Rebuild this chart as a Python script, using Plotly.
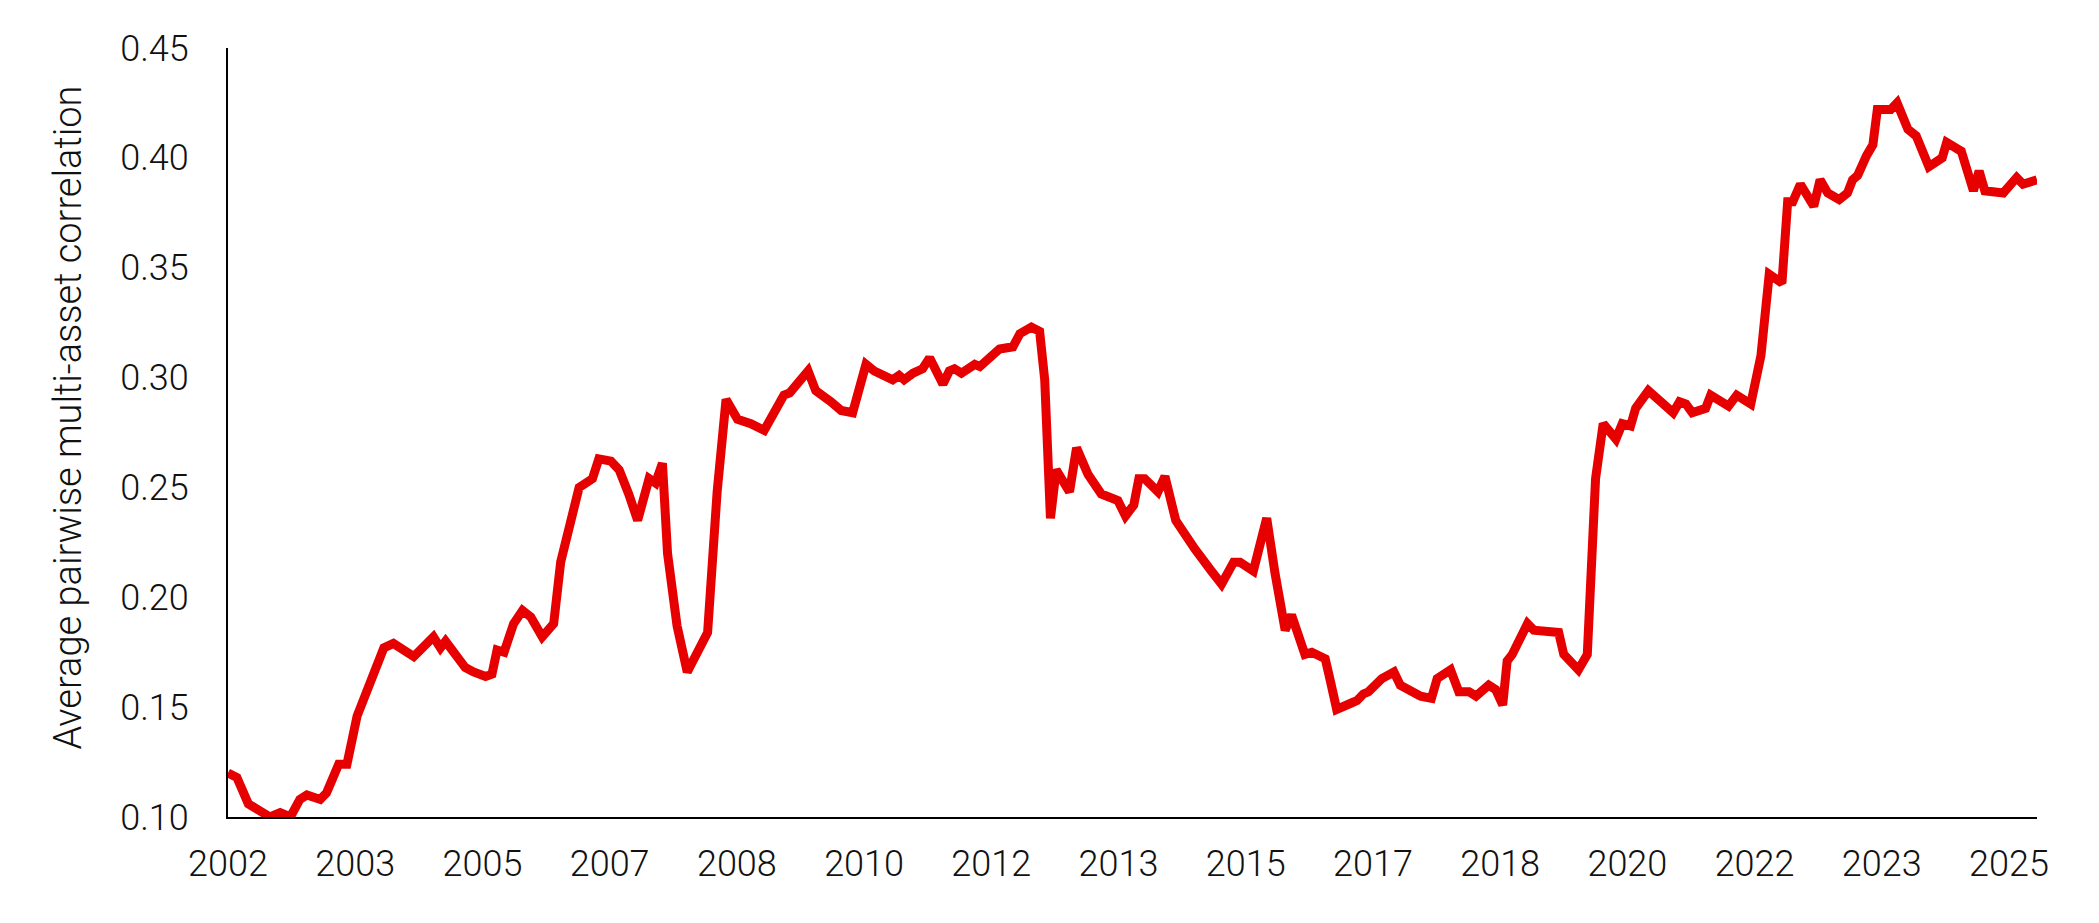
import plotly.graph_objects as go

# Months since January 2002 and the average pairwise correlation
month_index = [
    0.0, 1.4, 3.2, 5.3, 6.6, 8.2, 9.8, 11.3, 12.4, 14.5,
    15.5, 17.4, 18.7, 20.3, 22.6, 24.5, 26.0, 27.9, 29.2, 32.3,
    33.4, 34.2, 37.3, 38.6, 40.5, 41.5, 42.3, 43.4, 44.9, 46.3,
    47.6, 49.4, 51.2, 52.3, 53.9, 55.2, 57.3, 58.3, 60.2, 61.5,
    63.0, 64.4, 66.2, 67.2, 68.3, 69.1, 70.6, 72.2, 75.4, 76.9,
    78.3, 80.1, 82.2, 84.3, 87.4, 88.3, 91.2, 92.4, 94.8, 96.4,
    98.2, 100.3, 101.6, 104.5, 105.5, 106.3, 107.7, 109.2, 110.3, 112.4,
    113.4, 114.2, 115.3, 117.4, 118.2, 120.0, 121.3, 123.4, 124.5, 126.3,
    127.6, 128.4, 129.3, 130.2, 132.3, 133.4, 135.2, 137.3, 139.9, 141.1,
    142.4, 143.2, 144.1, 146.2, 147.3, 149.0, 150.2, 152.0, 154.6, 156.2,
    158.1, 159.1, 161.2, 163.3, 164.6, 166.2, 167.2, 169.3, 170.4, 172.5,
    173.3, 174.3, 176.7, 177.5, 178.5, 179.3, 181.4, 182.2, 183.3, 184.3,
    185.9, 187.5, 189.2, 190.1, 192.2, 193.5, 195.1, 196.2, 198.2, 199.3,
    200.4, 201.1, 201.9, 204.3, 205.3, 207.4, 209.2, 210.0, 212.3, 213.7,
    215.0, 216.2, 218.2, 219.2, 220.5, 221.3, 223.3, 227.2, 228.2, 229.2,
    230.2, 232.3, 233.1, 235.9, 237.2, 239.4, 241.0, 242.3, 244.3, 245.2,
    246.0, 247.2, 249.3, 250.3, 251.5, 253.3, 254.6, 255.4, 256.2, 257.6,
    258.6, 259.3, 261.4, 262.4, 264.1, 265.4, 267.4, 269.5, 270.2, 272.5,
    273.3, 274.4, 275.3, 276.2, 279.1, 281.2, 282.2, 284.4,
]

correlation = [
    0.120, 0.118, 0.106, 0.102, 0.100, 0.102, 0.100, 0.108, 0.110, 0.108,
    0.111, 0.124, 0.124, 0.146, 0.162, 0.177, 0.179, 0.175, 0.173, 0.182,
    0.177, 0.180, 0.168, 0.166, 0.164, 0.165, 0.176, 0.175, 0.188, 0.194,
    0.191, 0.182, 0.188, 0.216, 0.237, 0.250, 0.254, 0.263, 0.262, 0.258,
    0.247, 0.235, 0.254, 0.252, 0.261, 0.220, 0.187, 0.166, 0.184, 0.248,
    0.290, 0.281, 0.279, 0.276, 0.292, 0.293, 0.303, 0.294, 0.289, 0.285,
    0.284, 0.306, 0.303, 0.299, 0.301, 0.299, 0.302, 0.304, 0.309, 0.297,
    0.303, 0.304, 0.302, 0.306, 0.305, 0.310, 0.313, 0.314, 0.320, 0.323,
    0.321, 0.299, 0.236, 0.258, 0.248, 0.268, 0.256, 0.247, 0.244, 0.237,
    0.242, 0.254, 0.254, 0.248, 0.255, 0.235, 0.229, 0.222, 0.212, 0.206,
    0.216, 0.216, 0.212, 0.236, 0.211, 0.185, 0.192, 0.174, 0.175, 0.172,
    0.162, 0.149, 0.152, 0.153, 0.156, 0.157, 0.163, 0.164, 0.166, 0.160,
    0.157, 0.155, 0.154, 0.163, 0.167, 0.157, 0.157, 0.155, 0.160, 0.158,
    0.151, 0.171, 0.174, 0.188, 0.185, 0.185, 0.184, 0.174, 0.167, 0.174,
    0.254, 0.279, 0.272, 0.279, 0.278, 0.286, 0.294, 0.284, 0.289, 0.288,
    0.284, 0.286, 0.292, 0.287, 0.292, 0.288, 0.310, 0.347, 0.343, 0.380,
    0.380, 0.388, 0.378, 0.390, 0.384, 0.381, 0.384, 0.390, 0.392, 0.401,
    0.406, 0.422, 0.422, 0.425, 0.413, 0.410, 0.396, 0.400, 0.407, 0.403,
    0.396, 0.385, 0.394, 0.385, 0.384, 0.391, 0.388, 0.390,
]

# Category-axis labels, one every 20 months starting January 2002
tick_labels = ["2002", "2003", "2005", "2007", "2008", "2010", "2012", "2013",
               "2015", "2017", "2018", "2020", "2022", "2023", "2025"]
tick_step_months = 20

y_ticks = [0.10, 0.15, 0.20, 0.25, 0.30, 0.35, 0.40, 0.45]
y_title = "Average pairwise multi-asset correlation"

FONT = "Roboto"
TEXT_COLOR = "#111111"
TICK_SIZE = 36
TITLE_SIZE = 38

fig = go.Figure()
fig.add_trace(go.Scatter(
    x=month_index,
    y=correlation,
    mode="lines",
    line=dict(color="#E60000", width=9, shape="linear"),
    showlegend=False,
    hoverinfo="skip",
))

fig.update_layout(
    width=2083,
    height=907,
    margin=dict(l=220, r=54, t=40, b=98),
    paper_bgcolor="white",
    plot_bgcolor="white",
    font=dict(family=FONT, size=TICK_SIZE, color=TEXT_COLOR, weight=300),
)

# Vertical axis title, placed as rotated text left of the tick labels
fig.add_annotation(
    text=y_title,
    xref="paper", yref="paper",
    x=0, y=0.5,
    xanchor="center", yanchor="middle",
    xshift=-161, yshift=15,
    textangle=-90,
    showarrow=False,
    font=dict(family=FONT, size=TITLE_SIZE, color=TEXT_COLOR, weight=300),
)

fig.update_xaxes(
    range=[0, month_index[-1]],
    tickmode="array",
    tickvals=[i * tick_step_months for i in range(len(tick_labels))],
    ticktext=tick_labels,
    showgrid=False,
    zeroline=False,
    showline=True,
    linecolor="black",
    linewidth=2,
    ticks="",
    ticklabelstandoff=14,
    tickfont=dict(family=FONT, size=TICK_SIZE, color=TEXT_COLOR, weight=300),
)

fig.update_yaxes(
    range=[y_ticks[0], y_ticks[-1]],
    tickmode="array",
    tickvals=y_ticks,
    tickformat=".2f",
    showgrid=False,
    zeroline=False,
    showline=True,
    linecolor="black",
    linewidth=2,
    ticks="",
    ticklabelstandoff=30,
    tickfont=dict(family=FONT, size=TICK_SIZE, color=TEXT_COLOR, weight=300),
)

fig.write_html("out.html")
